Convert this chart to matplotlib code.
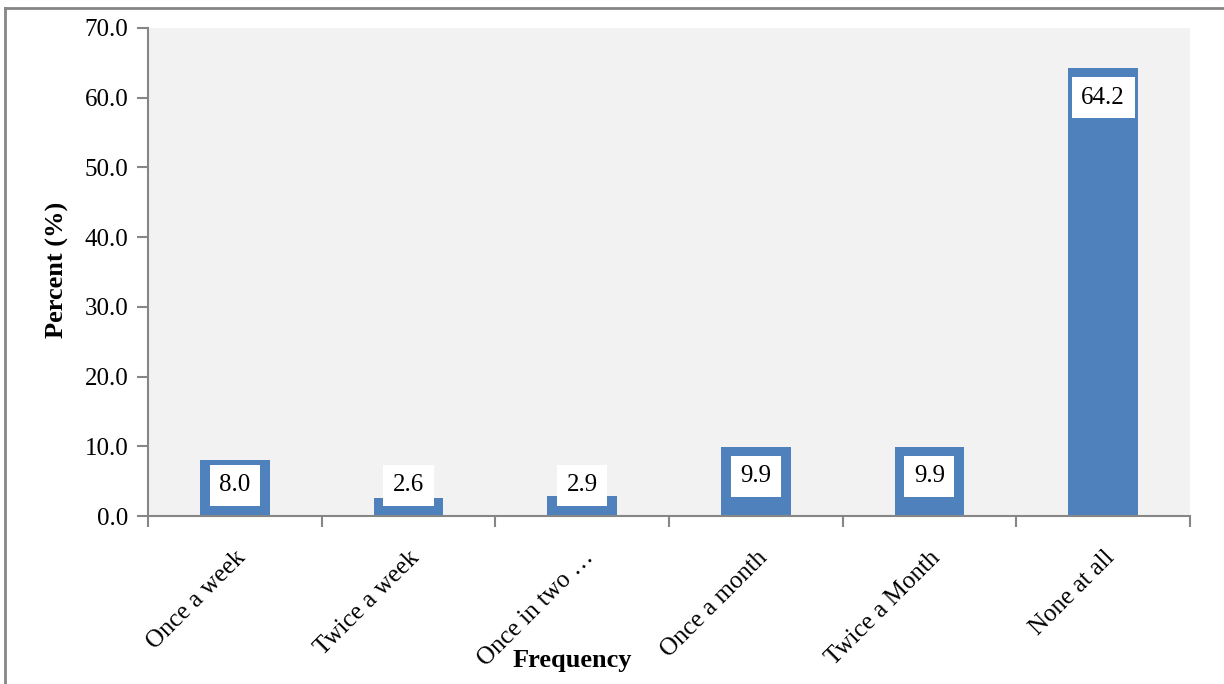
import numpy as np
import matplotlib.pyplot as plt
from matplotlib.lines import Line2D

plt.rcParams['font.family'] = ['Liberation Serif', 'DejaVu Serif']

# data
categories = ['Once a week', 'Twice a week', 'Once in two …', 'Once a month', 'Twice a Month', 'None at all']
percent = [8.0, 2.6, 2.9, 9.9, 9.9, 64.2]

bar_color = '#4F81BD'
axis_grey = '#868686'

fig = plt.figure(figsize=(12.24, 6.84), dpi=100)
ax = fig.add_axes([0.1209, 0.2456, 0.8513, 0.7135])
ax.set_facecolor('#F2F2F2')

x = np.arange(len(categories))
ax.bar(x, percent, width=0.4, color=bar_color, zorder=2)

# value labels, white boxes near the top of each bar
for xi, v in zip(x, percent):
    ax.text(xi, max(v - 4.2, 4.4), f'{v:.1f}', ha='center', va='center', fontsize=18,
            zorder=3, bbox=dict(boxstyle='square,pad=0.38', fc='white', ec='none'))

ax.set_xlim(-0.5, len(categories) - 0.5)
ax.set_ylim(0, 70)
ax.set_yticks(np.arange(0, 71, 10))
ax.set_yticklabels([f'{t:.1f}' for t in np.arange(0, 71, 10)], fontsize=18)

ax.set_xticks(x)
ax.set_xticklabels(categories, rotation=45, ha='right', rotation_mode='anchor', fontsize=18)
ax.tick_params(axis='x', which='major', length=0, pad=22)
ax.set_xticks(np.arange(-0.5, len(categories), 1), minor=True)
ax.tick_params(axis='x', which='minor', length=8, color=axis_grey, width=1.5)
ax.tick_params(axis='y', length=8, color=axis_grey, width=1.5, pad=6)

for s in ['top', 'right']:
    ax.spines[s].set_visible(False)
for s in ['left', 'bottom']:
    ax.spines[s].set_color(axis_grey)
    ax.spines[s].set_linewidth(1.5)

fig.text(57 / 1224, 1 - 270 / 684, 'Percent (%)', rotation=90, ha='center', va='center',
         fontsize=19, fontweight='bold')
fig.text(572 / 1224, 1 - 660 / 684, 'Frequency', ha='center', va='center',
         fontsize=19, fontweight='bold')

# outer frame of the chart
fig.add_artist(Line2D([5 / 1224, 5 / 1224], [0, 1 - 8 / 684], transform=fig.transFigure,
                      color=axis_grey, lw=2))
fig.add_artist(Line2D([5 / 1224, 1], [1 - 8 / 684, 1 - 8 / 684], transform=fig.transFigure,
                      color=axis_grey, lw=2))

fig.savefig('out.png', dpi=100)
